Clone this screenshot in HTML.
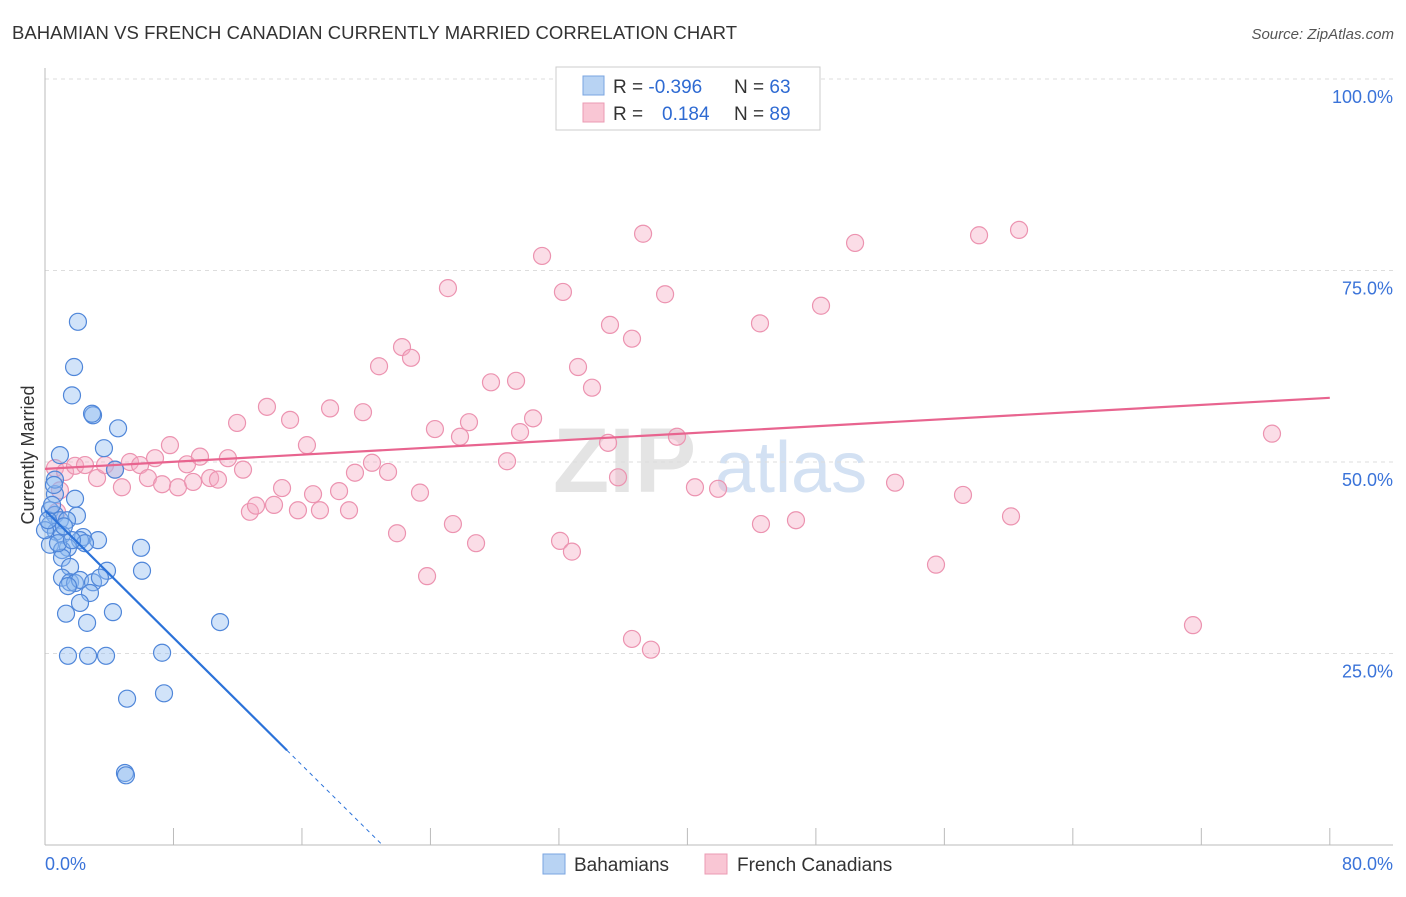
<!DOCTYPE html>
<html><head><meta charset="utf-8"><style>
body{margin:0;background:#fff;font-family:"Liberation Sans",sans-serif;}
svg text{font-family:"Liberation Sans",sans-serif;}
</style></head><body>
<svg width="1406" height="892" xmlns="http://www.w3.org/2000/svg">
<text x="12" y="39" font-size="18.5" fill="#333" textLength="725">BAHAMIAN VS FRENCH CANADIAN CURRENTLY MARRIED CORRELATION CHART</text>
<text x="1394" y="39" font-size="15" fill="#555" text-anchor="end" font-style="italic">Source: ZipAtlas.com</text>
<text x="553" y="492" font-size="92" fill="#e4e4e4" font-family="Liberation Serif" font-weight="bold">ZIP</text>
<text x="715" y="492" font-size="72" fill="#d3e1f3">atlas</text>
<g id="grid"></g>
<g id="axes"></g>
<g id="pink"></g>
<g id="blue"></g>
<g id="lines"></g>
<text transform="translate(34,455) rotate(-90)" font-size="18" fill="#333" text-anchor="middle">Currently Married</text>
<text x="45" y="870" font-size="18" fill="#3a73d9">0.0%</text>
<text x="1393" y="870" font-size="18" fill="#3a73d9" text-anchor="end">80.0%</text>
<g>
<rect x="556" y="67" width="264" height="63" fill="#fff" stroke="#ccc"/>
<rect x="583" y="76" width="21" height="19" fill="#b8d3f3" stroke="#7aa5e0"/>
<rect x="583" y="103" width="21" height="19" fill="#f9c6d4" stroke="#eb9bb3"/>
<text x="613" y="93" font-size="19" fill="#333">R = <tspan fill="#2e6ad2">-0.396</tspan></text>
<text x="734" y="93" font-size="19" fill="#333">N = <tspan fill="#2e6ad2">63</tspan></text>
<text x="613" y="120" font-size="19" fill="#333">R = <tspan fill="#2e6ad2" x="662">0.184</tspan></text>
<text x="734" y="120" font-size="19" fill="#333">N = <tspan fill="#2e6ad2">89</tspan></text>
</g>
<g>
<rect x="543" y="854" width="22" height="20" fill="#b8d3f3" stroke="#7aa5e0"/>
<text x="574" y="871" font-size="19" fill="#333">Bahamians</text>
<rect x="705" y="854" width="22" height="20" fill="#f9c6d4" stroke="#eb9bb3"/>
<text x="737" y="871" font-size="19" fill="#333">French Canadians</text>
</g>
</svg>
<script>
const yTicks=[25,50,75,100];
const yTickLabels=["25.0%","50.0%","75.0%","100.0%"];
const blueX=[2.05,1.81,1.68,2.99,2.93,4.55,3.67,0.93,4.36,1.87,0.62,0.62,1.99,0.31,0.62,0.93,1.37,0.31,0.68,1.06,2.37,2.18,3.30,2.49,0.31,1.43,1.06,5.98,1.06,1.56,3.86,6.04,1.06,1.56,1.87,2.18,2.99,1.43,2.80,2.18,1.31,4.23,2.62,10.9,1.43,2.68,3.80,7.29,7.41,5.11,4.98,5.04,0,0.19,0.44,0.81,1.68,1.18,0.56,3.42];
const blueY=[68.3,62.4,58.7,56.1,56.3,54.4,51.8,50.9,49.0,45.2,45.8,47.7,43.0,43.7,43.1,42.4,42.4,41.8,40.9,40.5,40.2,39.8,39.8,39.4,39.2,38.8,38.5,38.8,37.5,36.3,35.8,35.8,34.9,34.3,34.2,34.6,34.3,33.8,32.9,31.6,30.2,30.4,29.0,29.1,24.7,24.7,24.7,25.1,19.8,19.1,9.4,9.1,41.1,42.4,44.4,39.4,39.8,41.6,47.0,34.9];
const pinkX=[0.62,1.25,0.93,1.87,2.49,3.24,3.74,4.36,4.79,5.29,5.92,6.41,6.85,7.29,7.78,8.28,8.84,9.22,9.65,10.28,10.77,11.39,11.96,12.33,12.76,13.14,13.82,14.26,14.76,15.26,15.75,16.31,16.69,17.12,17.75,18.31,18.93,19.30,19.80,20.36,20.80,21.36,21.92,22.23,22.79,23.35,23.79,24.28,25.09,25.40,25.84,26.40,26.84,27.77,28.77,29.33,29.58,30.39,30.95,32.07,32.25,32.81,33.19,34.06,35.06,35.18,35.68,36.55,36.55,37.24,37.73,38.61,39.35,40.47,41.91,44.52,44.58,46.76,48.32,50.44,52.93,55.48,57.16,58.16,60.15,60.65,71.48,76.40,0.75];
const pinkY=[49.2,48.7,46.3,49.5,49.6,47.9,49.6,49.0,46.7,50.0,49.6,47.9,50.5,47.1,52.2,46.7,49.7,47.4,50.7,47.9,47.7,50.5,55.1,49.0,43.5,44.3,57.2,44.4,46.6,55.5,43.7,52.2,45.8,43.7,57.0,46.2,43.7,48.6,56.5,49.9,62.5,48.7,40.7,65.0,63.6,46.0,35.1,54.3,72.7,41.9,53.3,55.2,39.4,60.4,50.1,60.6,53.9,55.7,76.9,39.7,72.2,38.3,62.4,59.7,52.5,67.9,48.0,66.1,26.9,79.8,25.5,71.9,53.3,46.7,46.5,68.1,41.9,42.4,70.4,78.6,47.3,36.6,45.7,79.6,42.9,80.3,28.7,53.7,43.5];
const blueTrend=[43.7,-2.08];
const pinkTrend=[49.1,0.116];
const NS="http://www.w3.org/2000/svg";
const xs=v=>45+v*16.06;
const ys=v=>845-v*7.66;
function mk(t,a,p){const e=document.createElementNS(NS,t);for(const k in a)e.setAttribute(k,a[k]);p.appendChild(e);return e;}
const grid=document.getElementById('grid'),axes=document.getElementById('axes');
yTicks.forEach((t,i)=>{
 const l=mk('line',{x1:45,x2:1393,y1:ys(t),y2:ys(t),stroke:'#ddd','stroke-dasharray':'4,4'},grid);
 
 
 const tx=mk('text',{x:1393,y:ys(t)+24,'font-size':18,fill:'#3a73d9','text-anchor':'end'},grid);
 tx.textContent=yTickLabels[i];
 
 
});
const ax=mk('line',{x1:45,x2:45,y1:68,y2:845,stroke:'#bbb'},axes);


const bx=mk('line',{x1:45,x2:1393,y1:845,y2:845,stroke:'#bbb'},axes);


for(let i=0;i<=10;i++){
 const t=mk('line',{x1:xs(i*8),x2:xs(i*8),y1:828,y2:845,stroke:'#bbb'},axes);
 
 
}
const pg=document.getElementById('pink');
pinkX.forEach((x,i)=>{
 const c=mk('circle',{cx:xs(x),cy:ys(pinkY[i]),r:8.5,fill:'rgba(246,170,195,0.4)',stroke:'#ec93b0','stroke-width':1.2},pg);
 
 
});
const bg=document.getElementById('blue');
blueX.forEach((x,i)=>{
 const c=mk('circle',{cx:xs(x),cy:ys(blueY[i]),r:8.5,fill:'rgba(140,185,240,0.4)',stroke:'#4f86d9','stroke-width':1.2},bg);
 
 
});
const lg=document.getElementById('lines');
const bEnd=15.07,bZero=-blueTrend[0]/blueTrend[1];
const b1=mk('line',{x1:xs(0),y1:ys(blueTrend[0]),x2:xs(bEnd),y2:ys(blueTrend[0]+blueTrend[1]*bEnd),stroke:'#2b72d9','stroke-width':2.2},lg);


const b2=mk('line',{x1:xs(bEnd),y1:ys(blueTrend[0]+blueTrend[1]*bEnd),x2:xs(bZero),y2:ys(0),stroke:'#2b72d9','stroke-width':1,'stroke-dasharray':'4,4'},lg);


const p1=mk('line',{x1:xs(0),y1:ys(pinkTrend[0]),x2:xs(80),y2:ys(pinkTrend[0]+pinkTrend[1]*80),stroke:'#e8648f','stroke-width':2.2},lg);


</script>
</body></html>
